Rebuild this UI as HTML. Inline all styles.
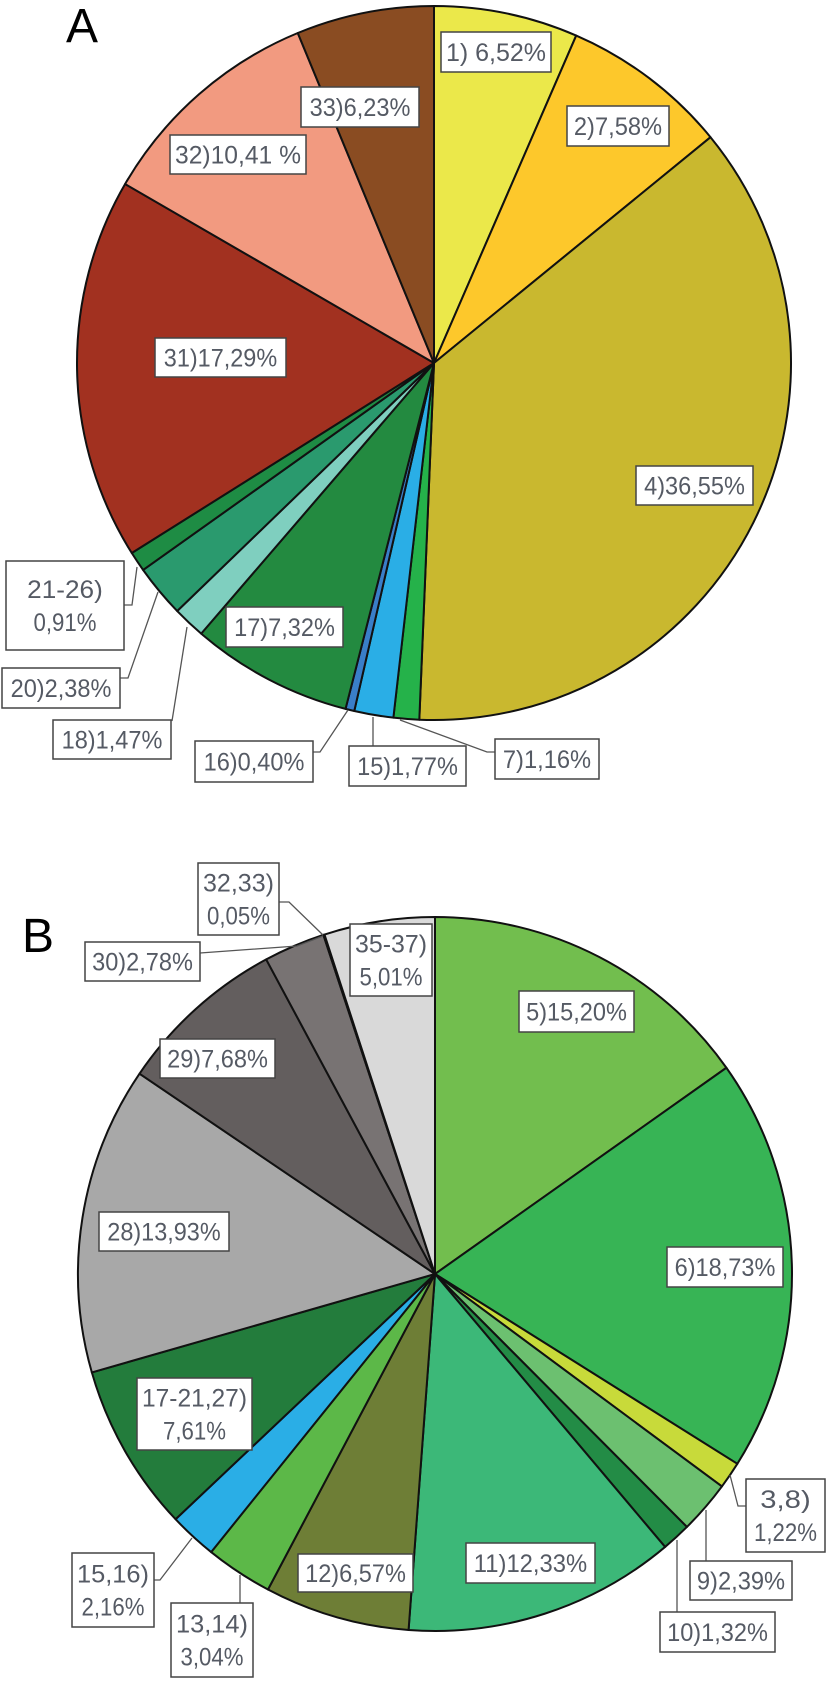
<!DOCTYPE html>
<html><head><meta charset="utf-8"><title>Pie charts A and B</title>
<style>
html,body{margin:0;padding:0;background:#fff;}
svg{display:block;}
.lbl{font-family:"Liberation Sans",sans-serif;font-size:25px;fill:#555a64;}
</style></head>
<body>
<svg id="chart" width="831" height="1684" viewBox="0 0 831 1684" xmlns="http://www.w3.org/2000/svg">
<text x="66" y="42" font-family="Liberation Sans,sans-serif" font-size="48" fill="#000">A</text>
<text x="22" y="952" font-family="Liberation Sans,sans-serif" font-size="48" fill="#000">B</text>
<g id="pieA"></g>
<g id="pieB"></g>
<g id="leaders" stroke="#555" stroke-width="1.3" fill="none">
<polyline points="124,605 132,605 137,567"/>
<polyline points="120,678 128,678 158,592"/>
<polyline points="172,721 187,627"/>
<polyline points="313,752 320,752 348,710"/>
<polyline points="373,746 373,717"/>
<polyline points="495,752 487,752 400,720"/>
<polyline points="279,902 289,902 323,935"/>
<polyline points="200,953 297,946 323,936"/>
<polyline points="154,1580 160,1580 192,1538"/>
<polyline points="240,1603 240,1575"/>
<polyline points="746,1506 738,1506 730,1475"/>
<polyline points="706,1561 706,1510"/>
<polyline points="677,1612 677,1540"/>
</g>
<g id="labels"></g>
</svg>
<script>
const NS = "http://www.w3.org/2000/svg";
// Pie A data (clockwise from top)
const catsA = ["1","2","4","7","15","16","17","18","20","21-26","31","32","33"];
const valsA = [6.52,7.58,36.55,1.16,1.77,0.40,7.32,1.47,2.38,0.91,17.29,10.41,6.23];
const colorsA = ["#ebe84a","#fdc82b","#c9b82f","#25b24a","#2aaee6","#3a7ec8","#238a40","#7fcfbf","#2a9a6e","#1e8c44","#a23120","#f29a80","#8a4c22"];
const textA = ["1) 6,52%","2)7,58%","4)36,55%","7)1,16%","15)1,77%","16)0,40%","17)7,32%","18)1,47%","20)2,38%","21-26)|0,91%","31)17,29%","32)10,41 %","33)6,23%"];
// Pie B data (clockwise from top)
const catsB = ["5","6","3,8","9","10","11","12","13,14","15,16","17-21,27","28","29","30","32,33","35-37"];
const valsB = [15.20,18.73,1.22,2.39,1.32,12.33,6.57,3.04,2.16,7.61,13.93,7.68,2.78,0.05,5.01];
const colorsB = ["#72be4e","#37b455","#c8da3a","#6cc070","#238c46","#3cb878","#6e7e36","#5cb848","#2aaee6","#237c3c","#a8a8a8","#635e5e","#787373","#555555","#d9d9d9"];
const textB = ["5)15,20%","6)18,73%","3,8)|1,22%","9)2,39%","10)1,32%","11)12,33%","12)6,57%","13,14)|3,04%","15,16)|2,16%","17-21,27)|7,61%","28)13,93%","29)7,68%","30)2,78%","32,33)|0,05%","35-37)|5,01%"];

// label box layout [x, y, w, h]
const boxA = [[441,32,110,40],[567,106,102,40],[636,466,117,39],[495,739,104,40],[349,746,117,40],[195,741,118,41],[226,607,117,40],[53,720,118,39],[2,668,118,40],[6,561,118,89],[155,338,131,39],[170,135,136,39],[301,87,118,40]];
const boxB = [[519,991,115,41],[667,1247,116,40],[746,1479,79,73],[690,1561,102,39],[660,1612,115,40],[466,1543,129,40],[298,1554,115,38],[171,1603,82,74],[72,1553,82,74],[137,1378,115,72],[99,1212,130,39],[160,1039,115,39],[85,942,115,39],[198,863,81,72],[350,924,82,72]];

function pie(g, cx, cy, r, cats, vals, colors, prefix){
  const total = vals.reduce((a,b)=>a+b,0);
  let acc = 0;
  vals.forEach((v,i)=>{
    const a0 = acc/total*2*Math.PI; acc += v;
    const a1 = acc/total*2*Math.PI;
    const x0 = cx + r*Math.sin(a0), y0 = cy - r*Math.cos(a0);
    const x1 = cx + r*Math.sin(a1), y1 = cy - r*Math.cos(a1);
    const large = (a1-a0) > Math.PI ? 1 : 0;
    const p = document.createElementNS(NS,"path");
    p.setAttribute("d",`M${cx},${cy} L${x0.toFixed(2)},${y0.toFixed(2)} A${r},${r} 0 ${large} 1 ${x1.toFixed(2)},${y1.toFixed(2)} Z`);
    p.setAttribute("fill",colors[i]);
    p.setAttribute("stroke","#111");
    p.setAttribute("stroke-width","2");
    p.setAttribute("stroke-linejoin","round");
    
    
    g.appendChild(p);
  });
}
pie(document.getElementById("pieA"), 434, 363, 357, catsA, valsA, colorsA, "pie-a");
pie(document.getElementById("pieB"), 435, 1274, 357, catsB, valsB, colorsB, "pie-b");

function labels(texts, boxes, cats, prefix){
  const g = document.getElementById("labels");
  texts.forEach((t,i)=>{
    const [x,y,w,h] = boxes[i];
    const grp = document.createElementNS(NS,"g");
    
    
    const rc = document.createElementNS(NS,"rect");
    rc.setAttribute("x",x); rc.setAttribute("y",y);
    rc.setAttribute("width",w); rc.setAttribute("height",h);
    rc.setAttribute("fill","#fff"); rc.setAttribute("stroke","#444"); rc.setAttribute("stroke-width","1.5");
    grp.appendChild(rc);
    const lines = t.split("|");
    lines.forEach((ln,j)=>{
      const tx = document.createElementNS(NS,"text");
      tx.setAttribute("class","lbl");
      tx.setAttribute("x", x + w/2);
      tx.setAttribute("text-anchor","middle");
      const lh = 33;
      const base = y + h/2 - (lines.length-1)*lh/2 + 9 + j*lh;
      tx.setAttribute("y", base);
      const tw = Math.min(w - 10, ln.length * 12.6);
      tx.setAttribute("textLength", tw);
      tx.setAttribute("lengthAdjust","spacingAndGlyphs");
      tx.textContent = ln;
      grp.appendChild(tx);
    });
    g.appendChild(grp);
  });
}
labels(textA, boxA, catsA, "pie-a");
labels(textB, boxB, catsB, "pie-b");
</script>
</body></html>
